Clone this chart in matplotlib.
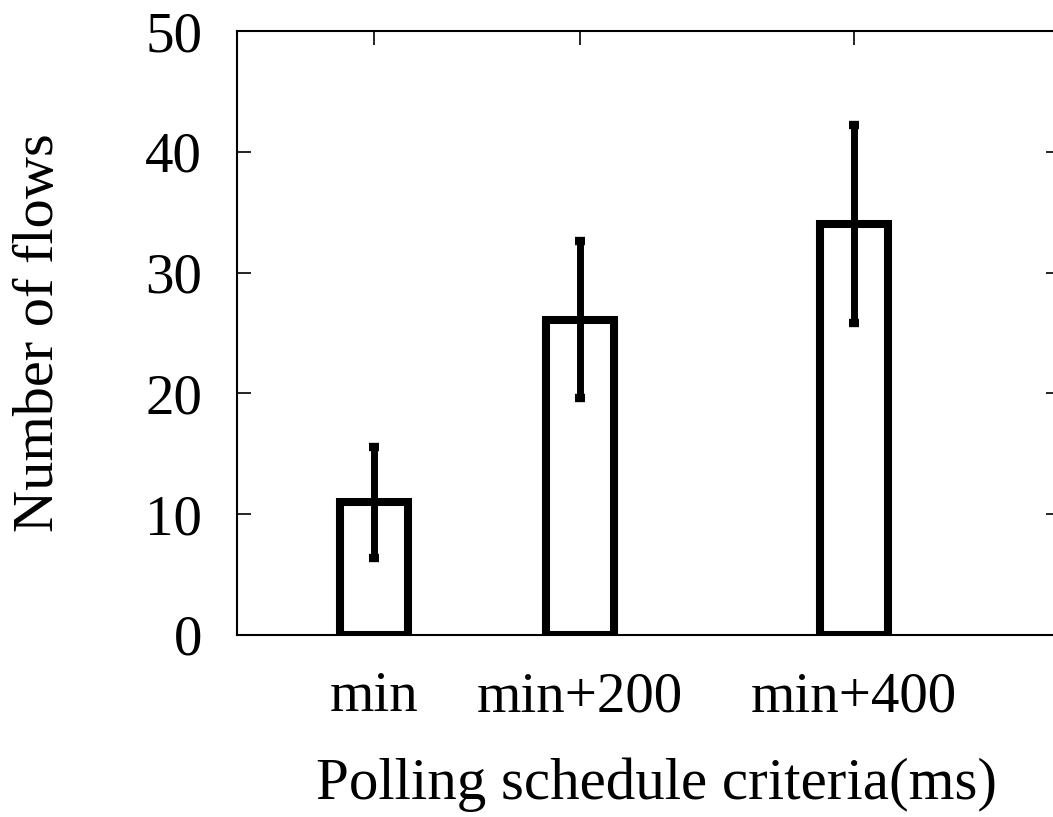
import matplotlib.pyplot as plt

# data
categories = ['min', 'min+200', 'min+400']
positions = [1.0, 2.0, 3.333]
flows = [11.0, 26.1, 34.0]
errors = [4.6, 6.5, 8.2]

plt.rcParams['font.family'] = ['Liberation Serif', 'DejaVu Serif']

fig = plt.figure(figsize=(10.53, 8.17), dpi=100)
ax = fig.add_axes([0.225, 0.2228, 0.7816, 0.7392])

ax.bar(positions, flows, width=0.33, color='white', edgecolor='black',
       linewidth=5.8, joinstyle='miter', zorder=2)
ax.errorbar(positions, flows, yerr=errors, fmt='none', ecolor='black',
            elinewidth=5, capsize=3.5, capthick=6, zorder=3)

ax.set_xlim(0.331, 4.336)
ax.set_ylim(0, 50)
ax.set_xticks(positions)
ax.set_xticklabels(categories)
ax.set_yticks(range(0, 51, 10))

ax.tick_params(direction='in', length=10, width=1.2, labelsize=41,
               top=True, right=True)
ax.tick_params(axis='y', pad=25)
ax.tick_params(axis='x', pad=26)
for s in ax.spines.values():
    s.set_linewidth(1.5)

ax.set_ylabel('Number of flows', fontsize=42, labelpad=58)
ax.set_xlabel('Polling schedule criteria(ms)', fontsize=42.5, labelpad=25)
ax.xaxis.label.set_x(0.51)

plt.savefig('out.png', dpi=100)
